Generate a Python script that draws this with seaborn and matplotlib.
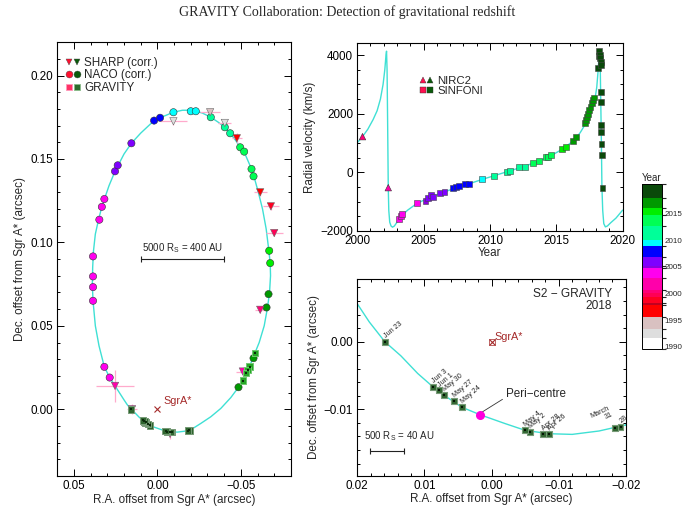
import numpy as np
import pandas as pd
import matplotlib
matplotlib.use("Agg")
import matplotlib.pyplot as plt
import seaborn as sns
from matplotlib.colors import ListedColormap, BoundaryNorm, to_rgb, to_hex
from matplotlib.ticker import MultipleLocator, FuncFormatter
from matplotlib.lines import Line2D
from matplotlib.legend_handler import HandlerTuple
import matplotlib.cm as cm

# ---------------- data ----------------
# year colour bands (colour bar)
band_bounds = [1989.5, 1991.6, 1993.3, 1995.6, 1997.8, 1998.1, 1999.3, 2000.0, 2000.6,
               2002.8, 2004.7, 2005.2, 2006.8, 2008.9, 2010.0, 2012.7, 2014.7, 2016.0,
               2017.95, 2020.5]
band_colors = ['#ffffff', '#dedede', '#d9c1c1', '#ff0000', '#c00020', '#ff0022', '#ff0055',
               '#ff0077', '#ff00aa', '#ff00ee', '#8a00e0', '#7f00ff', '#0000ff', '#00ffff',
               '#00ff99', '#00ff55', '#00ee00', '#009900', '#0a4a0a']
cbar_ticks = [1990, 1995, 2000, 2005, 2010, 2015]

# orbit model
orbit_ra = [-0.0200, -0.0160, -0.0120, -0.0085, -0.0050, -0.0020, 0.0017, 0.0044, 0.0071,
            0.0087, 0.0110, 0.0135, 0.0159, 0.0182, 0.0200, 0.0254, 0.0286, 0.0318, 0.0350,
            0.0372, 0.0386, 0.0390, 0.0388, 0.0383, 0.0372, 0.0352, 0.0333, 0.0314, 0.0290,
            0.0254, 0.0200, 0.0156, 0.0100, 0.0020, -0.0016, -0.0096, -0.0150, -0.0210,
            -0.0270, -0.0320, -0.0365, -0.0404, -0.0436, -0.0470, -0.0496, -0.0525, -0.0564,
            -0.0580, -0.0605, -0.0630, -0.0652, -0.0668, -0.0676, -0.0678, -0.0672, -0.0660,
            -0.0640, -0.0610, -0.0584, -0.0552, -0.0512, -0.0486, -0.0440, -0.0380, -0.0320,
            -0.0260, -0.0200]
orbit_dec = [-0.0123, -0.0132, -0.0137, -0.0136, -0.0131, -0.0121, -0.0108, -0.0097, -0.0079,
             -0.0067, -0.0047, -0.0021, 0.0000, 0.0029, 0.0056, 0.0140, 0.0190, 0.0254, 0.0380,
             0.0500, 0.0650, 0.0750, 0.0850, 0.0950, 0.1050, 0.1140, 0.1213, 0.1270, 0.1340,
             0.1426, 0.1530, 0.1594, 0.1655, 0.1730, 0.1747, 0.1780, 0.1792, 0.1792, 0.1775,
             0.1750, 0.1720, 0.1690, 0.1654, 0.1610, 0.1570, 0.1530, 0.1440, 0.1390, 0.1300,
             0.1200, 0.1080, 0.0950, 0.0876, 0.0800, 0.0700, 0.0610, 0.0500, 0.0400, 0.0336,
             0.0256, 0.0172, 0.0132, 0.0070, 0.0005, -0.0045, -0.0085, -0.0123]

# NACO astrometry
naco_ra = [0.0286, 0.0318, 0.0386, 0.0386, 0.0386, 0.0386, 0.0348, 0.0333, 0.0318, 0.0254,
           0.0238, 0.0156, 0.0020, -0.0016, -0.0096, -0.0200, -0.0230, -0.0320, -0.0404,
           -0.0436, -0.0496, -0.0520, -0.0564, -0.0576, -0.0670, -0.0676, -0.0666, -0.0654,
           -0.0576, -0.0486]
naco_dec = [0.0190, 0.0254, 0.0650, 0.0732, 0.0796, 0.0916, 0.1136, 0.1213, 0.1260, 0.1426,
            0.1462, 0.1594, 0.1730, 0.1747, 0.1780, 0.1786, 0.1786, 0.1750, 0.1690, 0.1654,
            0.1570, 0.1544, 0.1440, 0.1396, 0.0950, 0.0876, 0.0690, 0.0610, 0.0306, 0.0132]
naco_year = [2002.9, 2003.0, 2003.3, 2003.4, 2003.5, 2003.7, 2004.2, 2004.4, 2004.5, 2005.5,
             2005.6, 2006.3, 2007.3, 2007.6, 2009.3, 2009.6, 2009.8, 2011.3, 2012.2, 2012.4,
             2013.3, 2013.5, 2014.2, 2014.4, 2015.4, 2015.6, 2016.7, 2016.8, 2017.3, 2017.6]

# SHARP astrometry
sharp_ra = [-0.0096, -0.0404, -0.0316, -0.0476, -0.0616, -0.0680, -0.0700, -0.0616, -0.0512,
            -0.0076, 0.0152, 0.0254]
sharp_dec = [0.1726, 0.1716, 0.1780, 0.1624, 0.1300, 0.1216, 0.1056, 0.0596, 0.0226,
             -0.0148, 0.0000, 0.0140]
sharp_year = [1992.3, 1992.5, 1994.5, 1996.3, 1997.5, 1998.5, 1999.5, 2000.3, 2001.5,
              2002.2, 2002.4, 2002.5]
sharp_xerr = [0.008, 0.004, 0.006, 0.003, 0.004, 0.005, 0.005, 0.003, 0.004, 0.002, 0.003, 0.0115]
sharp_yerr = [0.002, 0.002, 0.002, 0.003, 0.002, 0.002, 0.002, 0.002, 0.003, 0.003, 0.003, 0.0095]

# GRAVITY astrometry
grav_ra = [-0.0584, -0.0552, -0.0540, -0.0530, -0.0512,
           -0.0192, -0.0184, -0.0085, -0.0077, -0.0057, -0.0050, 0.0044, 0.0056, 0.0071,
           0.0078, 0.0087, 0.0159]
grav_dec = [0.0336, 0.0256, 0.0236, 0.0216, 0.0172,
            -0.0126, -0.0128, -0.0136, -0.0136, -0.0134, -0.0131, -0.0097, -0.0088, -0.0079,
            -0.0072, -0.0067, 0.0000]
grav_year = [2017.3, 2017.4, 2017.5, 2017.6, 2017.7,
             2018.24, 2018.25, 2018.32, 2018.32, 2018.33, 2018.34, 2018.39, 2018.40, 2018.41,
             2018.42, 2018.42, 2018.48]
grav_label = ['', '', '', '', '',
              '28', 'March\n31', 'Apr 26', 'Apr 28', 'May 2', 'May 4', 'May 24', 'May 27',
              'May 30', 'Jun 1', 'Jun 3', 'Jun 23']

peri_ra, peri_dec = 0.0017, -0.0108

# radial velocity model curve
rvm_year = [2000.0, 2000.4, 2000.8, 2001.2, 2001.5, 2001.75, 2001.95, 2002.08, 2002.17, 2002.21,
            2002.25, 2002.29, 2002.34, 2002.38, 2002.45, 2002.55, 2002.66, 2002.8, 2003.0,
            2003.3, 2003.8, 2004.5, 2005.5, 2006.5, 2007.5, 2008.5, 2009.5, 2010.5, 2011.5,
            2012.5, 2013.5, 2014.5, 2015.5, 2016.3, 2016.8, 2017.2, 2017.6, 2017.9, 2018.05,
            2018.15, 2018.22, 2018.27, 2018.31, 2018.35, 2018.40, 2018.44, 2018.50, 2018.58,
            2018.70, 2018.85, 2019.1, 2019.5, 2020.0]
rvm_vel = [1010, 1216, 1470, 1800, 2100, 2500, 3000, 3500, 4000, 4130,
           3500, 1800, -523, -1300, -1700, -1830, -1870, -1830, -1700,
           -1500, -1290, -1060, -850, -680, -520, -380, -230, -90, 50,
           190, 350, 540, 800, 1080, 1350, 1650, 2050, 2450, 2900,
           3450, 3950, 4150, 3700, 2500, 1000, -500, -1300, -1750,
           -1860, -1830, -1720, -1560, -1290]

# NIRC2 radial velocities
nirc_year = [2000.40, 2002.34]
nirc_vel = [1216, -523]

# SINFONI radial velocities
sin_year = [2003.17, 2003.29, 2003.39, 2004.52, 2005.15, 2005.35, 2005.53, 2005.70, 2006.23,
            2006.58, 2007.19, 2007.44, 2007.64, 2008.09, 2008.42, 2009.37, 2010.33, 2011.26,
            2011.53, 2012.21, 2012.66, 2013.27, 2013.72, 2014.22, 2014.37, 2014.57, 2015.40,
            2015.70, 2016.28, 2016.48, 2017.14, 2017.24, 2017.34, 2017.42, 2017.50, 2017.58,
            2017.66, 2017.74, 2017.84, 2018.12, 2018.22, 2018.25, 2018.28, 2018.31, 2018.34,
            2018.36, 2018.37, 2018.37, 2018.40, 2018.40, 2018.41, 2018.42, 2018.48]
sin_vel = [-1591, -1489, -1420, -1034, -966, -886, -773, -852, -716,
           -659, -545, -489, -455, -386, -409, -239, -125, 23,
           45, 182, 182, 318, 398, 511, 534, 591, 795,
           875, 1080, 1205, 1670, 1784, 1875, 2000, 2125, 2239,
           2350, 2460, 2550, 3545, 3980, 4150, 4000, 3886, 3773,
           3659, 2750, 2409, 1614, 1386, 966, 591, -545]

# ---------------- style ----------------
sns.set_theme(style="ticks", context="paper")
plt.rcParams['font.family'] = ['Liberation Sans', 'DejaVu Sans']
plt.rcParams['axes.unicode_minus'] = True
plt.rcParams['axes.linewidth'] = 0.8
plt.rcParams['axes.edgecolor'] = 'black'

cmap = ListedColormap(band_colors)
norm = BoundaryNorm(band_bounds, cmap.N)


def ycol(y):
    return to_hex(cmap(norm(y)))


def mix(c, f):
    r = np.array(to_rgb(c))
    return to_hex(r + (1 - r) * f)


ORBIT = '#3fe0d4'
FS = 8.4


def fmt2(v, pos):
    s = f"{v:.2f}"
    if s in ('-0.00',):
        s = '0.00'
    return s.replace('-', '\u2212')


def fmt0(v, pos):
    return f"{v:.0f}".replace('-', '\u2212')


def style_ax(ax, xmaj, xmin, ymaj, ymin):
    ax.xaxis.set_major_locator(MultipleLocator(xmaj))
    ax.xaxis.set_minor_locator(MultipleLocator(xmin))
    ax.yaxis.set_major_locator(MultipleLocator(ymaj))
    ax.yaxis.set_minor_locator(MultipleLocator(ymin))
    ax.tick_params(which='both', direction='in', top=True, right=True, labelsize=FS,
                   width=0.7, colors='black', pad=3)
    ax.tick_params(which='major', length=5)
    ax.tick_params(which='minor', length=2.5)
    for s in ax.spines.values():
        s.set_visible(True)
        s.set_color('black')


fig = plt.figure(figsize=(6.83, 5.08), dpi=100)
fig.text(0.5076, 0.976, 'GRAVITY Collaboration: Detection of gravitational redshift',
         ha='center', va='center', fontsize=10, family=['Liberation Serif', 'DejaVu Serif'])

# ================= left panel: orbit =================
ax1 = fig.add_axes([0.0839, 0.063, 0.342, 0.854])
orb = pd.DataFrame({'ra': orbit_ra, 'dec': orbit_dec})
sns.lineplot(data=orb, x='ra', y='dec', sort=False, estimator=None, color=ORBIT, lw=1.0, ax=ax1)

ax1.errorbar(sharp_ra, sharp_dec, xerr=sharp_xerr, yerr=sharp_yerr, fmt='none',
             ecolor='#ffaacc', elinewidth=0.9, capsize=0, zorder=2)

dn = pd.DataFrame({'ra': naco_ra, 'dec': naco_dec, 'c': [ycol(y) for y in naco_year]})
sns.scatterplot(data=dn, x='ra', y='dec', hue='c', palette={c: c for c in dn.c}, marker='o',
                s=27, edgecolor='#333333', linewidth=0.4, legend=False, ax=ax1, zorder=4)
dsh = pd.DataFrame({'ra': sharp_ra, 'dec': sharp_dec, 'c': [ycol(y) for y in sharp_year]})
sns.scatterplot(data=dsh, x='ra', y='dec', hue='c', palette={c: c for c in dsh.c}, marker='v',
                s=28, edgecolor='#666666', linewidth=0.4, legend=False, ax=ax1, zorder=4)
dg = pd.DataFrame({'ra': grav_ra, 'dec': grav_dec,
                   'c': [mix(ycol(y), 0.15) for y in grav_year],
                   'e': [mix(ycol(y), 0.45) for y in grav_year]})
sns.scatterplot(data=dg, x='ra', y='dec', hue='c', palette={c: c for c in dg.c}, marker='s',
                s=22, edgecolor=dg.e.tolist(), linewidth=0.7, legend=False, ax=ax1, zorder=5)
sns.scatterplot(data=dg, x='ra', y='dec', color='#0a2a0a', marker='s', s=3, linewidth=0,
                legend=False, ax=ax1, zorder=6)

ax1.plot([0], [0], marker='x', color='#a52a2a', ms=5, mew=0.8, ls='none', zorder=5)
ax1.text(-0.0034, 0.0022, 'SgrA*', color='#a52a2a', fontsize=FS - 0.6, ha='left', va='bottom')
ax1.plot([0.010, -0.040], [0.090, 0.090], color='#222222', lw=0.8, marker='|', ms=5, mew=0.8)
ax1.text(-0.015, 0.0925, '5000 R$_\\mathregular{S}$ = 400 AU', fontsize=7, ha='center',
         va='bottom')

ax1.set_xlim(0.06, -0.08)
ax1.set_ylim(-0.04, 0.22)
style_ax(ax1, 0.05, 0.01, 0.05, 0.01)
ax1.xaxis.set_major_formatter(FuncFormatter(fmt2))
ax1.yaxis.set_major_formatter(FuncFormatter(fmt2))
ax1.set_xlabel('R.A. offset from Sgr A* (arcsec)', fontsize=FS, labelpad=1)
ax1.set_ylabel('Dec. offset from Sgr A* (arcsec)', fontsize=FS, labelpad=3)

h_sharp = (Line2D([], [], marker='v', color='#ff1030', ls='none', ms=5, mec='#444', mew=0.3),
           Line2D([], [], marker='v', color='#0a5a0a', ls='none', ms=5, mec='#444', mew=0.3))
h_naco = (Line2D([], [], marker='o', color='#ff1030', ls='none', ms=5, mec='#444', mew=0.3),
          Line2D([], [], marker='o', color='#0a5a0a', ls='none', ms=5, mec='#444', mew=0.3))
h_grav = (Line2D([], [], marker='s', color='#ff3366', ls='none', ms=4.5, mec='#ff99bb', mew=0.6),
          Line2D([], [], marker='s', color='#2d6b2d', ls='none', ms=4.5, mec='#88bb88', mew=0.6))
leg1 = ax1.legend([h_sharp, h_naco, h_grav], ['SHARP (corr.)', 'NACO (corr.)', 'GRAVITY'],
                  handler_map={tuple: HandlerTuple(ndivide=None, pad=0)}, loc='upper left',
                  bbox_to_anchor=(0.0, 0.985), frameon=False, fontsize=FS, handlelength=1.3,
                  handletextpad=0.3, labelspacing=0.05, borderaxespad=0.3)

# ================= top right: radial velocity =================
ax2 = fig.add_axes([0.523, 0.5453, 0.3886, 0.3695])
rvm = pd.DataFrame({'yr': rvm_year, 'v': rvm_vel})
sns.lineplot(data=rvm, x='yr', y='v', sort=False, estimator=None, color=ORBIT, lw=1.0, ax=ax2)
ds = pd.DataFrame({'yr': sin_year, 'v': sin_vel, 'c': [ycol(y) for y in sin_year]})
sns.scatterplot(data=ds, x='yr', y='v', hue='c', palette={c: c for c in ds.c}, marker='s',
                s=18, edgecolor='#444444', linewidth=0.4, legend=False, ax=ax2, zorder=4)
dnr = pd.DataFrame({'yr': nirc_year, 'v': nirc_vel, 'c': [ycol(y) for y in nirc_year]})
sns.scatterplot(data=dnr, x='yr', y='v', hue='c', palette={c: c for c in dnr.c}, marker='^',
                s=22, edgecolor='#333333', linewidth=0.4, legend=False, ax=ax2, zorder=4)
ax2.set_xlim(2000, 2020)
ax2.set_ylim(-2000, 4400)
style_ax(ax2, 5, 1, 2000, 500)
ax2.yaxis.set_major_formatter(FuncFormatter(fmt0))
ax2.set_xlabel('Year', fontsize=FS, labelpad=0)
ax2.set_ylabel('Radial velocity (km/s)', fontsize=FS, labelpad=3)

h_nirc = (Line2D([], [], marker='^', color='#ff1050', ls='none', ms=5, mec='#333', mew=0.3),
          Line2D([], [], marker='^', color='#0a5a0a', ls='none', ms=5, mec='#333', mew=0.3))
h_sin = (Line2D([], [], marker='s', color='#ff1050', ls='none', ms=4.5, mec='#333', mew=0.3),
         Line2D([], [], marker='s', color='#0a5a0a', ls='none', ms=4.5, mec='#333', mew=0.3))
ax2.legend([h_nirc, h_sin], ['NIRC2', 'SINFONI'],
           handler_map={tuple: HandlerTuple(ndivide=None, pad=0)}, loc='upper left',
           bbox_to_anchor=(0.215, 0.85), frameon=False, fontsize=FS - 0.2, handlelength=1.3,
           handletextpad=0.3, labelspacing=0.0, borderaxespad=0.0)

# ================= bottom right: GRAVITY 2018 zoom =================
ax3 = fig.add_axes([0.523, 0.0636, 0.3934, 0.3866])
sns.lineplot(data=orb, x='ra', y='dec', sort=False, estimator=None, color=ORBIT, lw=1.0, ax=ax3)
dg18 = dg[[y >= 2018 for y in grav_year]].copy()
sns.scatterplot(data=dg18, x='ra', y='dec', hue='c', palette={c: c for c in dg18.c},
                marker='s', s=18, edgecolor=dg18.e.tolist(), linewidth=0.8, legend=False,
                ax=ax3, zorder=5)
sns.scatterplot(data=dg18, x='ra', y='dec', color='#051505', marker='s', s=3, linewidth=0,
                legend=False, ax=ax3, zorder=6)
for ra, dec, lab in zip(grav_ra, grav_dec, grav_label):
    if not lab:
        continue
    if lab.startswith('March'):
        ax3.annotate(lab, (ra, dec), xytext=(-1, 2), textcoords='offset points', fontsize=5.2,
                     rotation=25, ha='right', va='bottom', multialignment='right',
                     linespacing=0.9)
    else:
        ax3.annotate(lab, (ra, dec), xytext=(1.5, 1.5), textcoords='offset points',
                     fontsize=5.2, rotation=40, ha='left', va='bottom', rotation_mode='anchor')

ax3.plot([peri_ra], [peri_dec], marker='o', color='#ff00dd', ms=5.5, mec='#ff00dd', ls='none',
         zorder=6)
ax3.annotate('Peri\u2212centre', (peri_ra - 0.0003, peri_dec + 0.0004),
             xytext=(-0.0021, -0.0077), textcoords='data', fontsize=FS, ha='left',
             va='center', arrowprops=dict(arrowstyle='-', color='#333333', lw=0.6,
                                          shrinkA=0, shrinkB=0,
                                          relpos=(0.0, 0.2)))
ax3.plot([0], [0], marker='x', color='#a52a2a', ms=5, mew=0.8, ls='none', zorder=5)
ax3.plot([0], [0], marker='s', mfc='none', mec='#a52a2a', ms=4, mew=0.5, ls='none', zorder=5)
ax3.text(-0.0004, 0.0000, 'SgrA*', color='#a52a2a', fontsize=FS - 0.6, ha='left', va='bottom')
ax3.text(-0.0179, 0.0079, 'S2 \u2212 GRAVITY\n2018', fontsize=8.6, ha='right', va='top',
         multialignment='right', linespacing=1.0)
ax3.plot([0.01816, 0.01308], [-0.0162, -0.0162], color='#222222', lw=0.8, marker='|', ms=5,
         mew=0.8)
ax3.text(0.0137, -0.0150, '500 R$_\\mathregular{S}$ = 40 AU', fontsize=7, ha='center',
         va='bottom')
ax3.set_xlim(0.02, -0.02)
ax3.set_ylim(-0.0198, 0.0092)
style_ax(ax3, 0.01, 0.002, 0.01, 0.002)
ax3.xaxis.set_major_formatter(FuncFormatter(fmt2))
ax3.yaxis.set_major_formatter(FuncFormatter(fmt2))
ax3.set_xlabel('R.A. offset from Sgr A* (arcsec)', fontsize=FS, labelpad=1)
ax3.set_ylabel('Dec. offset from Sgr A* (arcsec)', fontsize=FS, labelpad=3)

# ================= colour bar =================
cax = fig.add_axes([0.940, 0.3124, 0.0293, 0.325])
sm = cm.ScalarMappable(norm=norm, cmap=cmap)
cb = fig.colorbar(sm, cax=cax, spacing='proportional', ticks=cbar_ticks)
cb.outline.set_linewidth(0.7)
cb.outline.set_edgecolor('black')
cax.tick_params(direction='in', length=2.5, width=0.6, labelsize=5.8, pad=1.5)
cax.set_yticklabels([str(t) for t in cbar_ticks])
cax.set_title('Year', fontsize=7, pad=2)

fig.savefig('out.png', dpi=100)
